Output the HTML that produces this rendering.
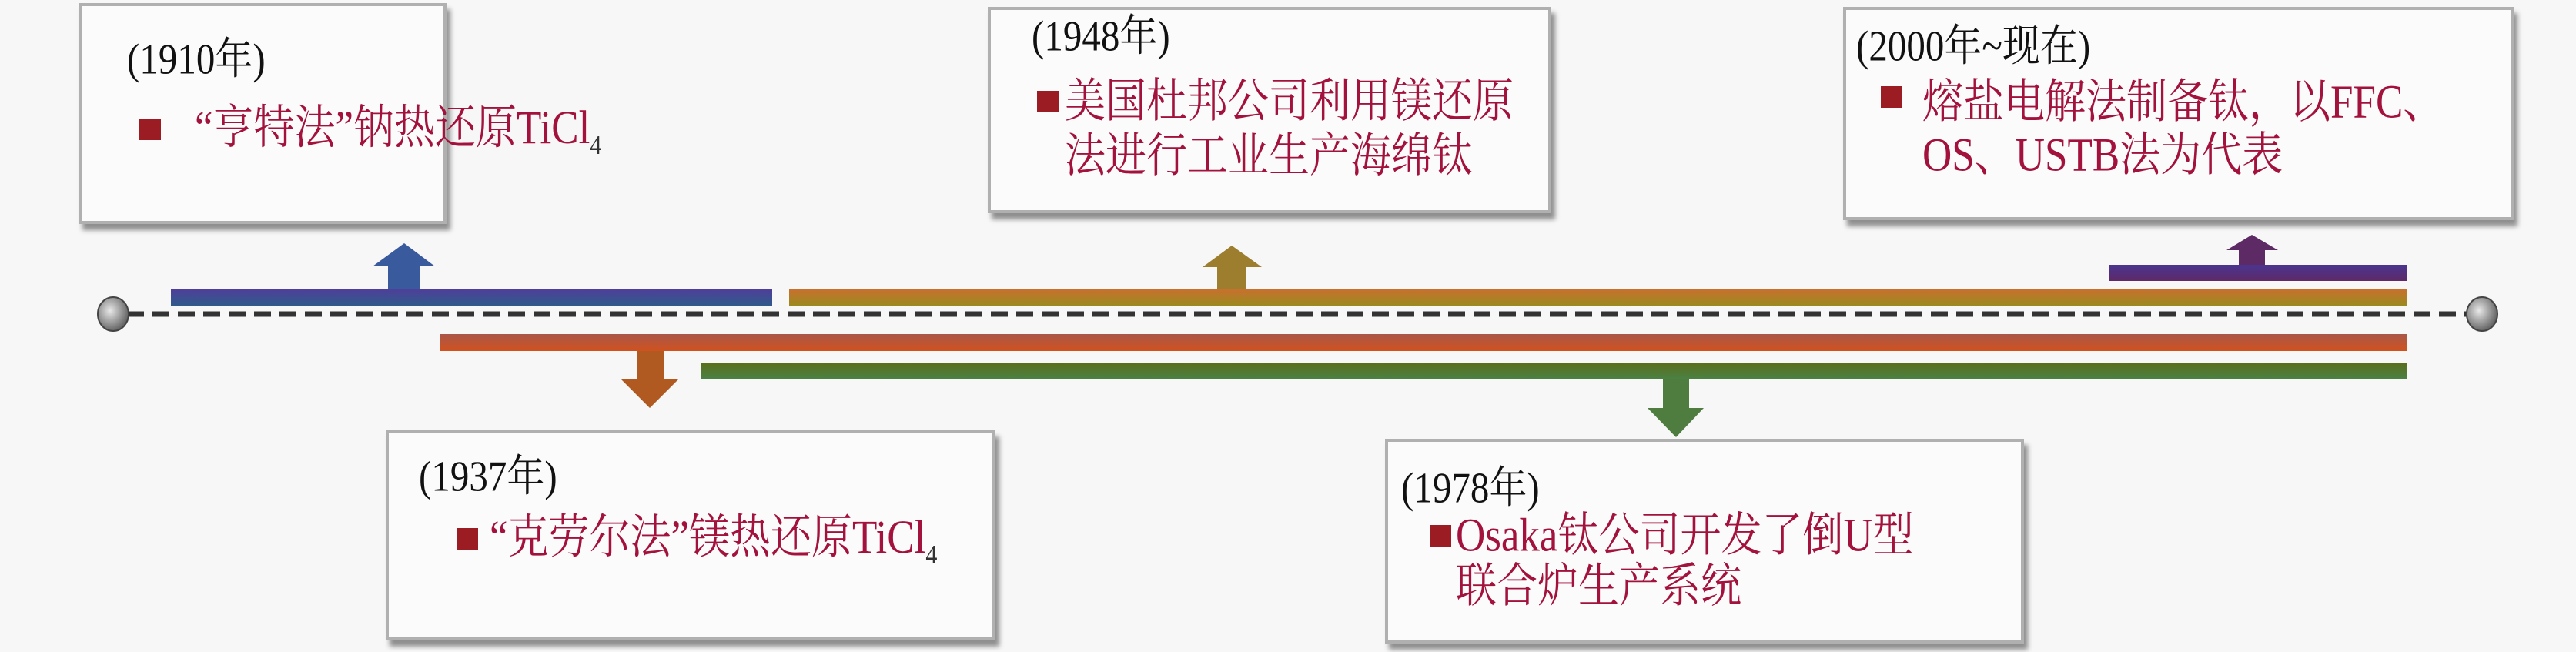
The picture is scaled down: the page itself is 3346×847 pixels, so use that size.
<!DOCTYPE html>
<html><head><meta charset="utf-8"><style>
body{margin:0;width:3346px;height:847px;background:#f7f7f7;position:relative;overflow:hidden;font-family:"Liberation Serif","Noto Serif CJK SC",serif}
.box{position:absolute;background:#fbfbfb;border:4px solid #b0b0b0;box-shadow:5px 8px 6px #8f8f8f;box-sizing:border-box}
.t{position:absolute;white-space:nowrap;line-height:70px;transform:scaleY(1.15);transform-origin:0 50%}
.yr{font-size:49px;color:#111}
.tx{font-size:53px;color:#a3123c}
.sq{position:absolute;width:28px;height:28px;background:#9b1c22}
sub{font-size:30px;vertical-align:-12px;color:#333}
</style></head><body>
<div class="box" style="left:102px;top:4px;width:478px;height:287px"></div>
<div class="box" style="left:1283px;top:9px;width:732px;height:268px"></div>
<div class="box" style="left:2394px;top:9px;width:871px;height:277px"></div>
<div class="box" style="left:501px;top:559px;width:792px;height:273px"></div>
<div class="box" style="left:1799px;top:570px;width:830px;height:266px"></div>

<div class="t yr" style="left:165px;top:42px">(1910年)</div>
<div class="sq" style="left:181px;top:154px"></div>
<div class="t tx" style="left:253px;top:133px">“亨特法”钠热还原TiCl<sub>4</sub></div>

<div class="t yr" style="left:1340px;top:12px">(1948年)</div>
<div class="sq" style="left:1347px;top:118px"></div>
<div class="t tx" style="left:1383px;top:97px">美国杜邦公司利用镁还原</div>
<div class="t tx" style="left:1383px;top:168px">法进行工业生产海绵钛</div>

<div class="t yr" style="left:2411px;top:25px">(2000年~现在)</div>
<div class="sq" style="left:2443px;top:112px"></div>
<div class="t tx" style="left:2497px;top:98px">熔盐电解法制备钛，以FFC、</div>
<div class="t tx" style="left:2497px;top:167px">OS、USTB法为代表</div>

<div class="t yr" style="left:544px;top:584px">(1937年)</div>
<div class="sq" style="left:593px;top:686px"></div>
<div class="t tx" style="left:636px;top:665px">“克劳尔法”镁热还原TiCl<sub>4</sub></div>

<div class="t yr" style="left:1820px;top:599px">(1978年)</div>
<div class="sq" style="left:1857px;top:682px"></div>
<div class="t tx" style="left:1891px;top:661px">Osaka钛公司开发了倒U型</div>
<div class="t tx" style="left:1891px;top:727px">联合炉生产系统</div>

<svg width="3346" height="847" style="position:absolute;left:0;top:0">
<defs>
<linearGradient id="gb" x1="0" y1="0" x2="0" y2="1"><stop offset="0" stop-color="#4f3f9a"/><stop offset="1" stop-color="#2f5a8a"/></linearGradient>
<linearGradient id="go" x1="0" y1="0" x2="0" y2="1"><stop offset="0" stop-color="#c8702e"/><stop offset="1" stop-color="#9a8a1e"/></linearGradient>
<linearGradient id="gr" x1="0" y1="0" x2="0" y2="1"><stop offset="0" stop-color="#a9574a"/><stop offset="1" stop-color="#d0521e"/></linearGradient>
<linearGradient id="gg" x1="0" y1="0" x2="0" y2="1"><stop offset="0" stop-color="#5a6e1c"/><stop offset="1" stop-color="#4a8246"/></linearGradient>
<linearGradient id="gp" x1="0" y1="0" x2="0" y2="1"><stop offset="0" stop-color="#4a3590"/><stop offset="1" stop-color="#5e2a66"/></linearGradient>
<radialGradient id="ball" cx="0.4" cy="0.4" r="0.6"><stop offset="0" stop-color="#e8e8e8"/><stop offset="1" stop-color="#666"/></radialGradient>
</defs>
<line x1="165" y1="408" x2="3205" y2="408" stroke="#333" stroke-width="7" stroke-dasharray="22 11"/>
<ellipse cx="147" cy="408" rx="20" ry="22" fill="url(#ball)" stroke="#444" stroke-width="2"/>
<ellipse cx="3224" cy="408" rx="20" ry="22" fill="url(#ball)" stroke="#444" stroke-width="2"/>
<rect x="222" y="376" width="781" height="21" fill="url(#gb)"/>
<polygon points="504,376 504,346 484,346 525,316 565,346 546,346 546,376" fill="#3a5a9e"/>
<rect x="1025" y="376" width="2102" height="21" fill="url(#go)"/>
<polygon points="1581,376 1581,347 1562,347 1600,319 1639,347 1619,347 1619,376" fill="#9c7e2e"/>
<rect x="572" y="434" width="2555" height="22" fill="url(#gr)"/>
<polygon points="828,456 828,493 807,493 844,530 881,493 862,493 862,456" fill="#b05a22"/>
<rect x="911" y="472" width="2216" height="21" fill="url(#gg)"/>
<polygon points="2160,493 2160,530 2140,530 2177,568 2213,530 2194,530 2194,493" fill="#4f7d40"/>
<rect x="2740" y="344" width="387" height="21" fill="url(#gp)"/>
<polygon points="2908,344 2908,325 2892,325 2925,305 2959,325 2942,325 2942,344" fill="#5e2a66"/>
</svg>
</body></html>
